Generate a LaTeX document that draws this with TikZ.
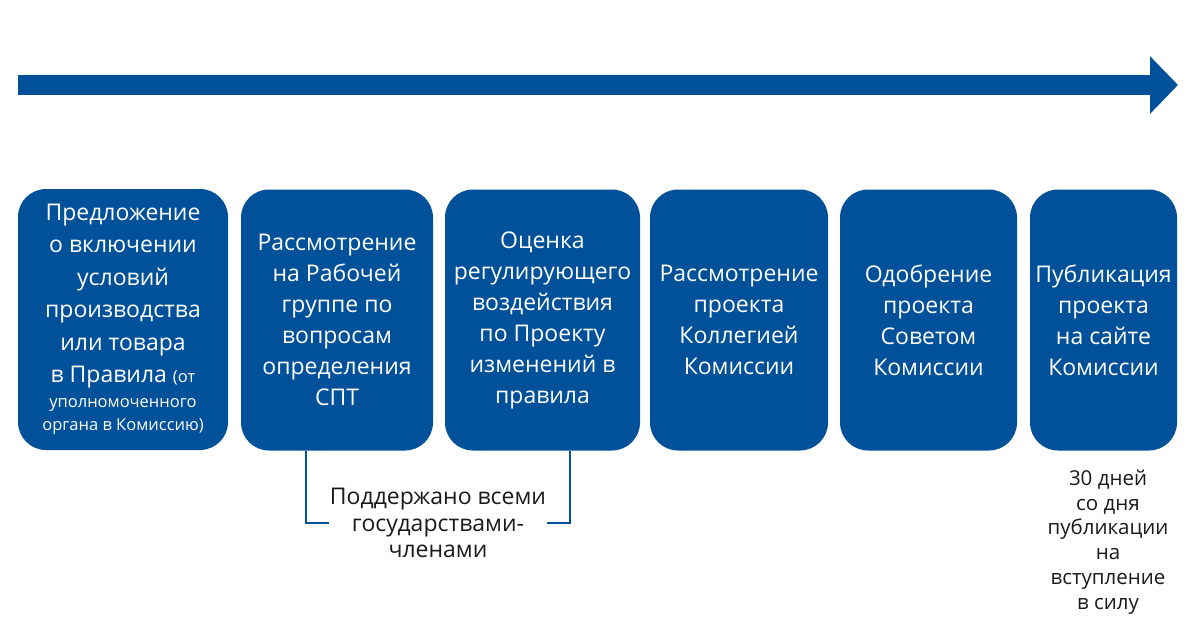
\documentclass[tikz,border=0pt]{standalone}
\usepackage{fontspec}
\setmainfont{Open Sans}
\usepackage{tikz}
\usetikzlibrary{arrows.meta,positioning}
\definecolor{eecblue}{HTML}{00519A}
\definecolor{notegray}{HTML}{1A1A1A}

\tikzset{
	stage/.style={fill=eecblue, rounded corners=28pt, text=white, align=center,
		minimum height=261pt, inner sep=0pt, font=\fontsize{23}{31}\selectfont},
	bracket/.style={draw=eecblue, line width=2pt},
	note/.style={align=center, text=notegray, inner sep=1pt,
		font=\fontsize{23}{26.5}\selectfont}
}

\begin{document}
\begin{tikzpicture}[x=1pt, y=-1pt]
	\useasboundingbox (0,0) rectangle (1200,635);
	% timeline
	\coordinate (start) at (18,85);
	\coordinate (end) at (1178,85);
	\draw[eecblue, line width=20pt, -{Triangle[length=28pt,width=56pt]}] (start) -- (end);
	% stages
	\node[stage, minimum width=210pt, font=\fontsize{23}{32.5}\selectfont] (b1) at (123,319.5)
		{Предложение\\о включении\\условий\\производства\\или товара\\в Правила {\fontsize{16.5}{22}\selectfont (от}\\[-8pt]
		{\fontsize{16.5}{22}\selectfont уполномоченного}\\[-9pt]{\fontsize{16.5}{22}\selectfont органа в Комиссию)}};
	\node[stage, minimum width=192pt] (b2) at (337,320)
		{Рассмотрение\\на Рабочей\\группе по\\вопросам\\определения\\СПТ};
	\node[stage, minimum width=195pt] (b3) at (542.5,320)
		{Оценка\\регулирующего\\воздействия\\по Проекту\\изменений в\\правила};
	\node[stage, minimum width=178pt] (b4) at (739,320)
		{Рассмотрение\\проекта\\Коллегией\\Комиссии};
	\node[stage, minimum width=177pt] (b5) at (928.5,320)
		{Одобрение\\проекта\\Советом\\Комиссии};
	\node[stage, minimum width=147pt] (b6) at (1103.5,320)
		{Публикация\\проекта\\на сайте\\Комиссии};
	% notes
	\node[note] (support) at (438,523) {Поддержано всеми\\государствами-\\членами};
	\draw[bracket] ([xshift=-31pt]b2.south) |- (support.west);
	\draw[bracket] ([xshift=27.5pt]b3.south) |- (support.east);
	\node[note, font=\fontsize{20.5}{24.8}\selectfont] (force) at (1108,542)
		{30 дней\\со дня\\публикации\\на\\вступление\\в силу};
\end{tikzpicture}
\end{document}
